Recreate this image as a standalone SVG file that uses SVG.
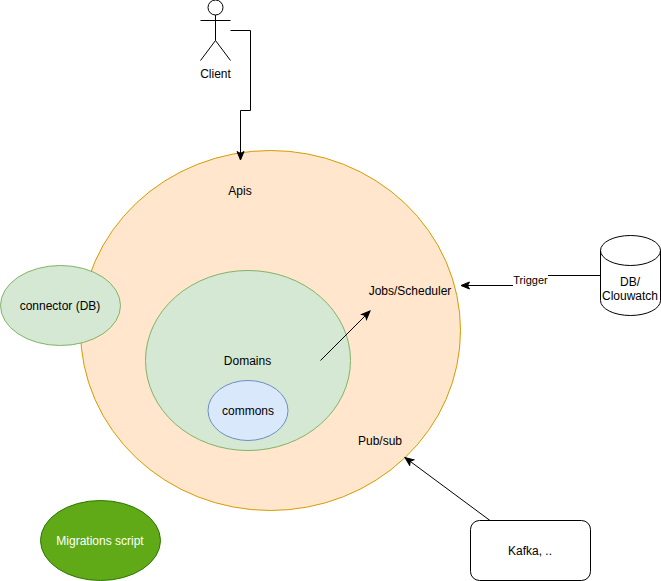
<svg xmlns="http://www.w3.org/2000/svg" width="661" height="581" viewBox="0 0 661 581">
<style>
text{font-family:"Liberation Sans",Arial,sans-serif;font-size:12px;fill:#000;text-anchor:middle}
.s{fill:none;stroke:#000;stroke-width:1}
.c{fill:none;stroke:#000;stroke-width:1;marker-end:url(#a)}
</style>
<defs>
<marker id="a" markerUnits="userSpaceOnUse" markerWidth="12" markerHeight="10" refX="5.5" refY="4.5" orient="auto">
<path d="M1 1L9.5 4.5L1 8L3 4.5Z" fill="#000" stroke="#000" stroke-width="1"/>
</marker>
</defs>
<rect width="661" height="581" fill="#fff"/>
<g id="api-circle"><ellipse cx="270.500" cy="330.500" rx="190" ry="180" fill="#ffe6cc" stroke="#d79b00"/>
<text x="240" y="195">Apis</text><text x="410" y="295">Jobs/Scheduler</text><text x="380" y="445">Pub/sub</text></g>
<g id="domains"><ellipse cx="248" cy="360.500" rx="102.500" ry="90" fill="#d5e8d4" stroke="#82b366"/><text x="247.500" y="365">Domains</text></g>
<g id="commons"><ellipse cx="248" cy="410.500" rx="40" ry="30" fill="#dae8fc" stroke="#6c8ebf"/><text x="248" y="415">commons</text></g>
<g id="connector"><ellipse cx="60.500" cy="305.500" rx="60" ry="40" fill="#d5e8d4" stroke="#82b366"/><text x="60" y="310">connector (DB)</text></g>
<g id="migrations"><ellipse cx="100.500" cy="540.500" rx="60" ry="40" fill="#60a917" stroke="#2d7600"/><text x="100" y="545" style="fill:#fff">Migrations script</text></g>
<g id="client"><circle cx="215.500" cy="7.500" r="7.500" class="s"/><path class="s" d="M215.500 15V40.500M200.500 20.500H230.500M215.500 40.500L200.500 60.500M215.500 40.500L230.500 60.500"/><text x="215.500" y="78">Client</text></g>
<g id="db"><path d="M600.500 250.500A30 15 0 0 1 660.500 250.500V300.500A30 15 0 0 1 600.500 300.500Z" fill="#fff" stroke="#000"/><path class="s" d="M600.500 250.500A30 15 0 0 0 660.500 250.500"/><text x="630" y="286">DB/</text><text x="630" y="300">Clouwatch</text></g>
<g id="kafka"><rect x="470.500" y="520.500" width="120" height="60" rx="9" fill="#fff" stroke="#000"/><text x="530" y="555">Kafka, ..</text></g>
<g id="connectors">
<path class="c" d="M230.500 30.500H250.500V110.500H240.500V156"/>
<path class="c" d="M320.500 360.500L367.200 313.800"/>
<path class="s" d="M600.500 275.500H548"/>
<path class="c" d="M513 285.500H465"/>
<path class="c" d="M490 520.500L408.200 459.900"/>
<text x="530.500" y="284" style="font-size:11px">Trigger</text>
</g>
</svg>
